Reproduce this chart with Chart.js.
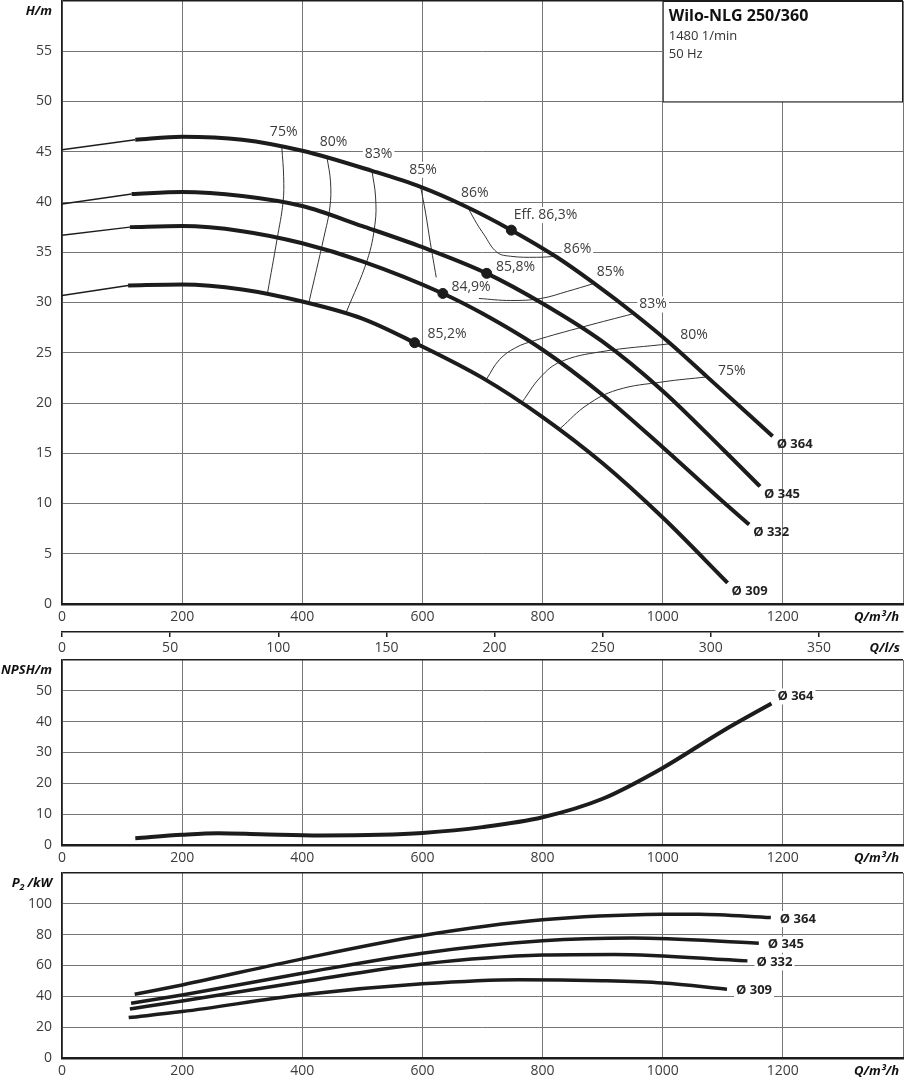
<!DOCTYPE html>
<html>
<head>
<meta charset="utf-8">
<title>Wilo-NLG 250/360</title>
<script src="https://cdn.jsdelivr.net/npm/chart.js@4.4.1/dist/chart.umd.min.js"></script>
<style>
    html, body { margin: 0; padding: 0; background: #fff; }
    body { width: 904px; height: 1080px; position: relative; overflow: hidden; }
    canvas { position: absolute; left: 0; }
</style>
</head>
<body>
<canvas id="headChart" width="904" height="630" style="top:0"></canvas>
<canvas id="flowChart" width="904" height="45" style="top:620px"></canvas>
<canvas id="npshChart" width="904" height="220" style="top:650px"></canvas>
<canvas id="powerChart" width="904" height="217" style="top:863px"></canvas>
<script>
// ---- data, Q in m³/h ----
const diameters = ['Ø 364', 'Ø 345', 'Ø 332', 'Ø 309'];

// head H/m: thin lead-in from Q = 0, then the thick curve
const headLead364 = [[0, 45.2], [122, 46.2]];
const headLead345 = [[0, 39.8], [116, 40.8]];
const headLead332 = [[0, 36.7], [113, 37.5]];
const headLead309 = [[0, 30.7], [110, 31.7]];

const head364 = [[122, 46.2], [200, 46.5], [300, 46.2], [400, 45.1], [516, 43.1], [597, 41.5], [674, 39.5],
    [748, 37.2], [824, 34.5], [886, 31.9], [952, 28.9], [1013, 25.9], [1074, 22.6], [1183, 16.7]];
const head345 = [[116, 40.8], [200, 41.0], [300, 40.6], [400, 39.6], [500, 37.6], [600, 35.5], [707, 32.9],
    [800, 29.9], [900, 26.1], [1000, 21.2], [1100, 15.4], [1162, 11.7]];
const head332 = [[113, 37.5], [200, 37.6], [300, 37.1], [400, 35.9], [500, 34.1], [634, 30.9], [700, 28.9],
    [800, 25.3], [900, 20.8], [1000, 15.6], [1100, 10.2], [1144, 7.9]];
const head309 = [[110, 31.7], [200, 31.8], [300, 31.3], [400, 30.1], [500, 28.4], [587, 26.0], [700, 22.5],
    [800, 18.6], [900, 14.0], [1000, 8.6], [1108, 2.1]];

// iso-efficiency lines
const eff75Left = [[366, 45.4], [369, 42.5], [368, 40.0], [358, 36.3], [342, 30.9]];
const eff80Left = [[441, 44.5], [447, 42.0], [446, 39.5], [436, 36.5], [411, 30.0]];
const eff83Left = [[516, 43.1], [522, 40.5], [521, 37.8], [508, 34.2], [473, 29.0]];
const eff85Left = [[597, 41.5], [605, 39.0], [613, 36.0], [623, 32.5]];
const eff86Loop = [[677, 39.3], [690, 37.9], [702, 36.8], [724, 35.0], [747, 34.6], [790, 34.5], [824, 34.6]];
const eff85Right = [[694, 30.4], [747, 30.2], [797, 30.4], [841, 31.1], [886, 31.9]];
const eff83Right = [[707, 22.4], [728, 24.3], [755, 25.5], [786, 26.2], [869, 27.6], [952, 28.9]];
const eff80Right = [[766, 20.1], [797, 22.6], [830, 24.1], [897, 25.1], [1013, 25.9]];
const eff75Right = [[830, 17.5], [874, 19.8], [924, 21.3], [1000, 22.1], [1074, 22.6]];

// best efficiency points
const bestPoints = [[748, 37.2], [707, 32.9], [634, 30.9], [587, 26.0]];
const bestLabels = ['Eff. 86,3%', '85,8%', '84,9%', '85,2%'];

// NPSH/m
const npsh364 = [[122, 2.2], [200, 3.3], [260, 3.8], [330, 3.5], [430, 3.1], [530, 3.3], [600, 3.9],
    [700, 5.8], [800, 9.0], [900, 15.0], [1000, 25.0], [1100, 37.0], [1181, 45.9]];

// P2/kW
const power364 = [[121, 41.3], [200, 47.4], [400, 64.3], [600, 79.4], [800, 89.6], [1000, 93.2], [1060, 93.3], [1180, 91.1]];
const power345 = [[115, 35.5], [200, 40.9], [400, 55.0], [600, 68.0], [800, 76.0], [950, 77.8], [1160, 74.5]];
const power332 = [[113, 31.8], [200, 37.0], [400, 49.5], [600, 61.0], [800, 66.8], [920, 67.2], [1141, 63.0]];
const power309 = [[111, 26.2], [200, 30.1], [400, 41.0], [600, 48.1], [760, 50.8], [900, 50.1], [1000, 48.6], [1107, 44.6]];

// axis ranges
const qMax = 1400, qStep = 200;
const lsStep = 50;
const hMax = 60, hStep = 5;
const npshMax = 60, npshStep = 10;
const pMax = 120, pStep = 20;

// ---- styling ----
const FONT = "'Open Sans', 'DejaVu Sans', sans-serif";
const GRID = '#767676';
const INK = '#1c1c1c';
const TEXT = '#3c3c3c';
const tickFont = { family: FONT, size: 14 };
const unitFont = `italic bold 13px ${FONT}`;

Chart.defaults.animation = false;
Chart.defaults.devicePixelRatio = 1;

const toXY = pts => pts.map(([x, y]) => ({ x, y }));

function curve(points, width, order) {
    return {
        data: toXY(points),
        borderColor: INK,
        borderWidth: width,
        pointRadius: 0,
        cubicInterpolationMode: 'monotone',
        order: order
    };
}

function thinLine(points) {
    return {
        data: toXY(points),
        borderColor: '#333',
        borderWidth: 1,
        pointRadius: 0,
        tension: 0.4,
        order: 3
    };
}

function write(ctx, text, x, y, font, align = 'center', color = TEXT) {
    ctx.save();
    ctx.font = font;
    ctx.fillStyle = color;
    ctx.textAlign = align;
    ctx.textBaseline = 'middle';
    ctx.fillText(text, x, y);
    ctx.restore();
}

function padUnder(ctx, text, x, y, font, align = 'center') {
    ctx.save();
    ctx.font = font;
    const w = ctx.measureText(text).width;
    const left = align === 'left' ? x : align === 'right' ? x - w : x - w / 2;
    ctx.fillStyle = '#fff';
    ctx.fillRect(left - 2, y - 8, w + 4, 16);
    ctx.restore();
}

function qScale(height) {
    return {
        type: 'linear',
        min: 0,
        max: qMax,
        afterFit: s => {
            s.height = height;
            s.paddingLeft = 0;
            s.paddingRight = 0;
        },
        ticks: {
            stepSize: qStep,
            padding: 5,
            color: TEXT,
            font: tickFont,
            maxRotation: 0,
            callback: v => (v === qMax ? '' : v)
        },
        grid: { color: GRID, lineWidth: 1, drawTicks: false },
        border: { color: INK, width: 2.5 }
    };
}

function valueScale(max, step) {
    return {
        type: 'linear',
        min: 0,
        max: max,
        afterFit: s => {
            s.width = 62;
            s.paddingTop = 0;
            s.paddingBottom = 0;
        },
        ticks: {
            stepSize: step,
            padding: 10,
            color: TEXT,
            font: tickFont,
            callback: v => (v === max ? '' : v)
        },
        grid: {
            color: c => (c.tick && c.tick.value === max ? INK : GRID),
            lineWidth: c => (c.tick && c.tick.value === max ? 1.5 : 1),
            drawTicks: false
        },
        border: { color: INK, width: 1.5 }
    };
}

function baseOptions(padTop, xHeight, yMax, yStep) {
    return {
        responsive: false,
        layout: { autoPadding: false, padding: { top: padTop, right: 1, left: 0, bottom: 0 } },
        plugins: { legend: { display: false }, tooltip: { enabled: false } },
        scales: { x: qScale(xHeight), y: valueScale(yMax, yStep) }
    };
}

// unit captions that replace the last tick labels
function unitCaptions(yCaption) {
    return {
        id: 'unitCaptions',
        afterDraw(chart) {
            const { ctx, chartArea } = chart;
            const y = chartArea.top + 10;
            if (yCaption === 'P2') {
                const small = `italic bold 9px ${FONT}`;
                ctx.save();
                ctx.font = unitFont;
                const w = ctx.measureText('/kW').width;
                ctx.font = small;
                const w2 = ctx.measureText('2').width;
                ctx.restore();
                write(ctx, '/kW', 52, y, unitFont, 'right', '#111');
                write(ctx, '2', 52 - w - 3, y + 4, small, 'right', '#111');
                write(ctx, 'P', 52 - w - 3 - w2, y, unitFont, 'right', '#111');
            } else {
                write(ctx, yCaption, 52, y, unitFont, 'right', '#111');
            }
            write(ctx, 'Q/m³/h', 899, chartArea.bottom + 13, unitFont, 'right', '#111');
        }
    };
}

// ---- head chart ----
const pctLabels = [
    ['75%', 369, 47.0], ['80%', 452, 46.0], ['83%', 527, 44.8], ['85%', 601, 43.2], ['86%', 687, 40.9],
    ['86%', 858, 35.3], ['85%', 913, 33.0], ['83%', 984, 29.8], ['80%', 1052, 26.8], ['75%', 1115, 23.2]
];
const bestLabelAt = [[805, 38.7], [755, 33.5], [681, 31.5], [641, 26.9]];
const pctFont = `14px ${FONT}`;
const diaFont = `bold 13px ${FONT}`;

const headOverlay = {
    id: 'headOverlay',
    beforeDatasetsDraw(chart) {
        const { ctx, chartArea, scales: { x, y } } = chart;
        const bx = x.getPixelForValue(1000), by = y.getPixelForValue(50);
        ctx.save();
        ctx.fillStyle = '#fff';
        ctx.fillRect(bx, chartArea.top, chartArea.right - bx, by - chartArea.top);
        ctx.strokeStyle = INK;
        ctx.lineWidth = 1;
        ctx.strokeRect(bx + 0.5, chartArea.top + 0.5, chartArea.right - bx - 1, by - chartArea.top);
        ctx.restore();
        pctLabels.forEach(([t, q, h]) => padUnder(ctx, t, x.getPixelForValue(q), y.getPixelForValue(h), pctFont));
        bestLabels.forEach((t, i) => padUnder(ctx, t, x.getPixelForValue(bestLabelAt[i][0]), y.getPixelForValue(bestLabelAt[i][1]), pctFont));
    },
    afterDatasetsDraw(chart) {
        const { ctx, chartArea, scales: { x, y } } = chart;
        pctLabels.forEach(([t, q, h]) => write(ctx, t, x.getPixelForValue(q), y.getPixelForValue(h), pctFont));
        bestLabels.forEach((t, i) => write(ctx, t, x.getPixelForValue(bestLabelAt[i][0]), y.getPixelForValue(bestLabelAt[i][1]), pctFont));
        [head364, head345, head332, head309].forEach((c, i) => {
            const [q, h] = c[c.length - 1];
            write(ctx, diameters[i], x.getPixelForValue(q) + 4, y.getPixelForValue(h) + 8, diaFont, 'left', '#222');
        });
        const bx = x.getPixelForValue(1000);
        write(ctx, 'Wilo-NLG 250/360', bx + 6, chartArea.top + 15, `bold 16px ${FONT}`, 'left', '#111');
        write(ctx, '1480 1/min', bx + 6, chartArea.top + 35, `13px ${FONT}`, 'left', '#333');
        write(ctx, '50 Hz', bx + 6, chartArea.top + 53, `13px ${FONT}`, 'left', '#333');
    }
};

new Chart(document.getElementById('headChart'), {
    type: 'line',
    data: {
        datasets: [
            ...[eff75Left, eff80Left, eff83Left, eff85Left, eff86Loop, eff85Right, eff83Right, eff80Right, eff75Right].map(thinLine),
            ...[headLead364, headLead345, headLead332, headLead309].map(p => ({ ...curve(p, 1.5, 2), cubicInterpolationMode: 'default', tension: 0 })),
            ...[head364, head345, head332, head309].map(p => curve(p, 4, 1)),
            {
                data: toXY(bestPoints),
                showLine: false,
                pointRadius: 5,
                pointBackgroundColor: INK,
                pointBorderColor: INK,
                order: 0
            }
        ]
    },
    options: baseOptions(1, 26, hMax, hStep),
    plugins: [headOverlay, unitCaptions('H/m')]
});

// ---- flow axis in l/s ----
new Chart(document.getElementById('flowChart'), {
    type: 'line',
    data: { datasets: [{ data: [] }] },
    options: {
        responsive: false,
        layout: { autoPadding: false, padding: { top: 0, right: 1, left: 62, bottom: 0 } },
        plugins: { legend: { display: false }, tooltip: { enabled: false } },
        scales: {
            x: {
                type: 'linear',
                min: 0,
                max: qMax / 3.6,
                afterFit: s => {
                    s.height = 33;
                    s.paddingLeft = 0;
                    s.paddingRight = 0;
                },
                ticks: { stepSize: lsStep, includeBounds: false, padding: 3, color: TEXT, font: tickFont, maxRotation: 0 },
                grid: { drawOnChartArea: false, drawTicks: true, tickLength: 5, color: INK, lineWidth: 1.5 },
                border: { color: INK, width: 1.5 }
            },
            y: { display: false, min: 0, max: 1 }
        }
    },
    plugins: [{
        id: 'flowCaption',
        afterDraw(chart) {
            write(chart.ctx, 'Q/l/s', 900, chart.chartArea.bottom + 16, unitFont, 'right', '#111');
        }
    }]
});

// ---- NPSH chart ----
new Chart(document.getElementById('npshChart'), {
    type: 'line',
    data: { datasets: [curve(npsh364, 4, 1)] },
    options: baseOptions(10, 25, npshMax, npshStep),
    plugins: [unitCaptions('NPSH/m'), {
        id: 'npshLabel',
        beforeDatasetsDraw(chart) {
            const { ctx, scales: { x, y } } = chart;
            const [q, v] = npsh364[npsh364.length - 1];
            padUnder(ctx, diameters[0], x.getPixelForValue(q) + 6, y.getPixelForValue(v) - 7, diaFont, 'left');
        },
        afterDatasetsDraw(chart) {
            const { ctx, scales: { x, y } } = chart;
            const [q, v] = npsh364[npsh364.length - 1];
            write(ctx, diameters[0], x.getPixelForValue(q) + 6, y.getPixelForValue(v) - 7, diaFont, 'left', '#222');
        }
    }]
});

// ---- power chart ----
const powerCurves = [power364, power345, power332, power309];
new Chart(document.getElementById('powerChart'), {
    type: 'line',
    data: { datasets: powerCurves.map(p => curve(p, 3.5, 1)) },
    options: baseOptions(10, 22, pMax, pStep),
    plugins: [unitCaptions('P2'), {
        id: 'powerLabels',
        beforeDatasetsDraw(chart) {
            const { ctx, scales: { x, y } } = chart;
            powerCurves.forEach((c, i) => {
                const [q, v] = c[c.length - 1];
                padUnder(ctx, diameters[i], x.getPixelForValue(q) + 9, y.getPixelForValue(v) + 1.5, diaFont, 'left');
            });
        },
        afterDatasetsDraw(chart) {
            const { ctx, scales: { x, y } } = chart;
            powerCurves.forEach((c, i) => {
                const [q, v] = c[c.length - 1];
                write(ctx, diameters[i], x.getPixelForValue(q) + 9, y.getPixelForValue(v) + 1.5, diaFont, 'left', '#222');
            });
        }
    }]
});
</script>
</body>
</html>
